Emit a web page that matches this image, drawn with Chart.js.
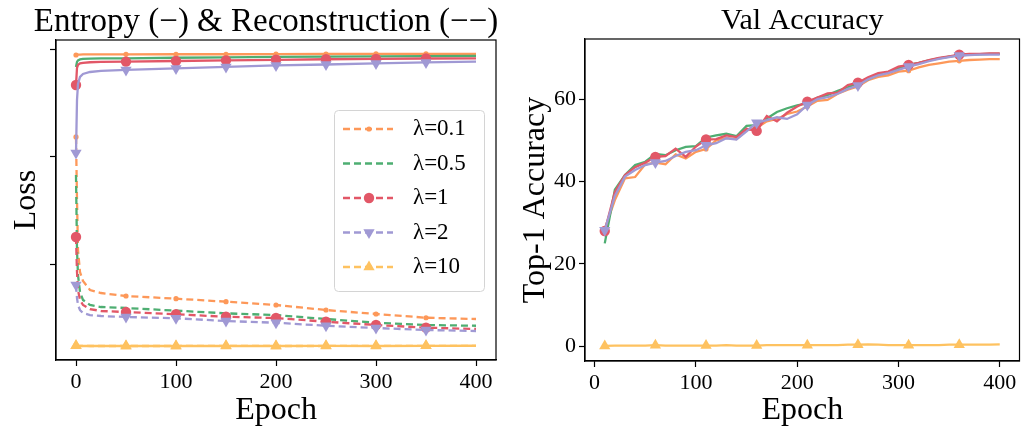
<!DOCTYPE html><html><head><meta charset="utf-8"><title>Entropy & Val Accuracy</title>
<style>html,body{margin:0;padding:0;background:#fff;overflow:hidden}canvas{position:absolute;top:0}#loss{left:0}#acc{left:520px}</style>
<script src="https://cdn.jsdelivr.net/npm/chart.js"></script>
</head><body><canvas id="loss" width="520" height="427"></canvas><canvas id="acc" width="506" height="427"></canvas>
<script>
// series names and colours
const lambdas = ['λ=0.1', 'λ=0.5', 'λ=1', 'λ=2', 'λ=10'];
const colors = ['#FD9859', '#4EAE72', '#E25767', '#A099D4', '#FEC260'];
const markerStyle = ['circle', false, 'circle', 'triangle', 'triangle'];
const markerSize = [2.6, 0, 5.2, 6.5, 6.5];
const markerRot = [0, 0, 0, 180, 0];

// left: loss vs epoch (y ticks are unlabeled)
const lossEpochs = [0, 1, 2, 4, 7, 14, 25, 50, 100, 150, 200, 250, 300, 350, 400];
const entropyL01 = [2.953, 2.955, 2.956, 2.957, 2.958, 2.958, 2.958, 2.959, 2.960, 2.960, 2.961, 2.962, 2.963, 2.963, 2.963];
const entropyL05 = [2.841, 2.888, 2.902, 2.911, 2.916, 2.919, 2.921, 2.922, 2.927, 2.931, 2.935, 2.937, 2.940, 2.942, 2.944];
const entropyL1 = [2.673, 2.832, 2.860, 2.874, 2.880, 2.885, 2.888, 2.891, 2.897, 2.903, 2.908, 2.913, 2.917, 2.920, 2.922];
const entropyL2 = [2.037, 2.533, 2.682, 2.748, 2.776, 2.794, 2.804, 2.813, 2.827, 2.841, 2.855, 2.864, 2.874, 2.883, 2.891];
const entropyL10 = [0.236, 0.235, 0.235, 0.234, 0.234, 0.234, 0.234, 0.234, 0.234, 0.234, 0.234, 0.235, 0.234, 0.235, 0.236];
const reconL01 = [2.187, 1.598, 1.131, 0.925, 0.841, 0.757, 0.729, 0.701, 0.676, 0.648, 0.617, 0.570, 0.533, 0.498, 0.486];
const reconL05 = [1.832, 1.131, 0.897, 0.738, 0.664, 0.617, 0.598, 0.589, 0.564, 0.539, 0.523, 0.486, 0.451, 0.430, 0.423];
const reconL1 = [1.252, 0.925, 0.757, 0.664, 0.617, 0.579, 0.561, 0.551, 0.530, 0.507, 0.495, 0.461, 0.430, 0.405, 0.393];
const reconL2 = [0.804, 0.682, 0.617, 0.570, 0.542, 0.523, 0.514, 0.505, 0.493, 0.467, 0.451, 0.423, 0.402, 0.383, 0.374];
const reconL10 = [0.236, 0.235, 0.234, 0.234, 0.235, 0.234, 0.234, 0.234, 0.234, 0.235, 0.234, 0.234, 0.235, 0.235, 0.235];
const lossXTicks = [0, 100, 200, 300, 400];
const lossYTicks = [1, 2, 3];

// right: top-1 validation accuracy
const accEpochs = [10, 20, 30, 40, 50, 60, 70, 80, 90, 100, 110, 120, 130, 140, 150, 160, 170, 180, 190, 200,
  210, 220, 230, 240, 250, 260, 270, 280, 290, 300, 310, 320, 330, 340, 350, 360, 370, 380, 390, 400];
const accL01 = [28.5, 35.5, 40.8, 41.1, 44.2, 44.6, 44.2, 46.6, 45.6, 47.2, 47.9, 50.0, 50.6, 50.3, 52.5, 53.0, 54.6, 55.2, 56.4, 57.0,
  58.2, 59.6, 59.8, 61.3, 62.3, 63.1, 64.6, 65.4, 65.8, 66.7, 66.9, 67.7, 68.3, 68.7, 69.1, 69.3, 69.5, 69.6, 69.7, 69.7];
const accL05 = [25.0, 38.0, 41.6, 44.0, 44.8, 46.7, 46.4, 47.6, 48.4, 48.6, 50.7, 51.2, 51.6, 51.0, 53.5, 53.7, 55.3, 56.9, 57.8, 58.5,
  59.0, 60.4, 61.0, 62.0, 62.9, 63.8, 64.8, 66.0, 66.5, 67.5, 68.3, 68.8, 69.4, 69.9, 70.3, 70.6, 70.8, 70.9, 71.0, 71.0];
const accL1 = [28.0, 37.5, 41.6, 43.5, 44.6, 46.0, 46.2, 48.0, 46.0, 48.5, 50.2, 50.3, 51.2, 50.8, 52.8, 52.3, 55.9, 54.6, 56.7, 58.2,
  59.4, 60.4, 61.4, 61.6, 63.4, 64.0, 65.3, 66.3, 66.7, 67.9, 68.3, 68.8, 69.5, 70.0, 70.4, 70.8, 71.0, 71.0, 71.1, 71.1];
const accL2 = [28.2, 36.5, 41.2, 42.8, 44.0, 44.6, 45.0, 46.2, 47.2, 47.6, 48.8, 49.3, 50.5, 50.2, 52.2, 54.3, 54.9, 55.6, 55.2, 56.3,
  58.6, 60.0, 60.5, 61.3, 62.5, 63.3, 64.8, 65.8, 66.3, 67.1, 67.9, 68.5, 69.2, 69.8, 70.2, 70.6, 70.7, 70.8, 70.8, 70.8];
const accL10 = [0.1, 0.2, 0.2, 0.2, 0.2, 0.3, 0.2, 0.2, 0.2, 0.2, 0.2, 0.2, 0.3, 0.2, 0.2, 0.2, 0.3, 0.3, 0.3, 0.3,
  0.3, 0.3, 0.3, 0.3, 0.4, 0.4, 0.5, 0.4, 0.3, 0.3, 0.3, 0.3, 0.3, 0.3, 0.4, 0.4, 0.4, 0.4, 0.4, 0.5];
const accXTicks = [0, 100, 200, 300, 400];
const accYTicks = [0, 20, 40, 60];

const entropy = [entropyL01, entropyL05, entropyL1, entropyL2, entropyL10];
const recon = [reconL01, reconL05, reconL1, reconL2, reconL10];
const acc = [accL01, accL05, accL1, accL2, accL10];

Chart.defaults.font.family = '"Liberation Serif", "DejaVu Serif", serif';
Chart.defaults.color = '#000';

const marks = (epochs, first, i) => ctx => {
  const e = epochs[ctx.dataIndex];
  return markerStyle[i] && e >= first && e < 400 && (e - first) % 50 === 0 ? markerSize[i] : 0;
};
const series = (epochs, values, i, first, dash, order) => ({
  data: epochs.map((e, j) => ({ x: e, y: values[j] })),
  borderColor: colors[i], backgroundColor: colors[i], borderWidth: 2.3, borderDash: dash,
  pointStyle: markerStyle[i] || 'circle', pointRotation: markerRot[i], pointBorderWidth: 0,
  pointRadius: marks(epochs, first, i), pointHoverRadius: 0, tension: 0, order: order
});

const frame = { id: 'frame', afterDatasetsDraw(c) {
  const a = c.chartArea, g = c.ctx;
  g.save(); g.strokeStyle = '#000'; g.lineWidth = 1.2;
  g.strokeRect(a.left, a.top, a.right - a.left, a.bottom - a.top); g.restore();
} };

// the left title is wider than its axes, so it is drawn here without squeezing
const lossHeading = { id: 'lossHeading', afterDraw(c) {
  const g = c.ctx;
  g.save(); g.fillStyle = '#000'; g.font = '33px "Liberation Serif"'; g.textAlign = 'center'; g.textBaseline = 'alphabetic';
  g.fillText('Entropy (−) & Reconstruction (−−)', 266, 31); g.restore();
} };

const lossLegend = { id: 'lossLegend', afterDraw(c) {
  const a = c.chartArea, g = c.ctx, w = 150, h = 181, x0 = a.right - 12 - w, y0 = a.top + 70;
  g.save();
  g.beginPath(); g.roundRect(x0 + 0.5, y0 + 0.5, w, h, 4);
  g.fillStyle = 'rgba(255,255,255,0.8)'; g.fill(); g.strokeStyle = '#d4d4d4'; g.lineWidth = 1; g.stroke();
  lambdas.forEach((name, i) => {
    const y = y0 + 19 + i * 34.5;
    g.strokeStyle = colors[i]; g.lineWidth = 2.3; g.setLineDash([7, 4]);
    g.beginPath(); g.moveTo(x0 + 9, y); g.lineTo(x0 + 59, y); g.stroke(); g.setLineDash([]);
    if (markerStyle[i]) {
      g.fillStyle = colors[i];
      Chart.helpers.drawPoint(g, { pointStyle: markerStyle[i], radius: markerSize[i], rotation: markerRot[i], borderWidth: 0 }, x0 + 35, y);
    }
    g.fillStyle = '#000'; g.font = '23px "Liberation Serif"'; g.textBaseline = 'middle';
    g.fillText(name, x0 + 79, y);
  });
  g.restore();
} };

const axis = (min, max, ticks, labels, size, title, titlePad) => ({
  type: 'linear', min: min, max: max,
  afterBuildTicks: s => { s.ticks = ticks.map(v => ({ value: v })); },
  afterFit: s => { if (s.isHorizontal()) s.height = size; else s.width = size; },
  grid: { drawOnChartArea: false, drawTicks: true, tickLength: 6, color: '#000', tickWidth: 1.2 },
  border: { display: true, color: '#000', width: 1.2 },
  ticks: { font: { size: 22 }, padding: 3, maxRotation: 0, callback: v => labels ? String(v) : '' },
  title: { display: true, text: title, font: { size: 32, lineHeight: 1.0 }, padding: titlePad }
});

const base = (titleText, titleSize, titlePad) => ({
  responsive: false, animation: false, events: [],
  layout: { padding: 0 },
  plugins: {
    legend: { display: false }, tooltip: { enabled: false },
    title: { display: !!titleText, text: titleText, fullSize: false, font: { size: titleSize, weight: 'normal', lineHeight: 1.2 }, padding: titlePad }
  }
});

const lossSets = [];
lambdas.forEach((n, i) => {
  lossSets.push(series(lossEpochs, entropy[i], i, 0, [], -2 * i));
  lossSets.push(series(lossEpochs, recon[i], i, 0, [7, 4], -2 * i - 1));
});
const lossOpts = base('', 33, 0);
lossOpts.layout.padding = { top: 40, right: 24 };
lossOpts.scales = {
  x: axis(-20, 420, lossXTicks, true, 67, 'Epoch', { top: 0, bottom: 0 }),
  y: axis(0.103, 3.093, lossYTicks, false, 56, 'Loss', { top: 11, bottom: 0 })
};
new Chart(document.getElementById('loss'), { type: 'line', data: { datasets: lossSets }, options: lossOpts, plugins: [frame, lossLegend, lossHeading] });

const accSets = acc.map((v, i) => series(accEpochs, v, i, 10, [], -i));
const accOpts = base('Val Accuracy', 30, { top: 3, bottom: 0 });
accOpts.scales = {
  x: axis(-9.5, 419.5, accXTicks, true, 66, 'Epoch', { top: 0, bottom: 0 }),
  y: axis(-3.55, 74.6, accYTicks, true, 65, 'Top-1 Accuracy', { top: 0, bottom: 0 })
};
new Chart(document.getElementById('acc'), { type: 'line', data: { datasets: accSets }, options: accOpts, plugins: [frame] });
</script>
</body>
</html>
